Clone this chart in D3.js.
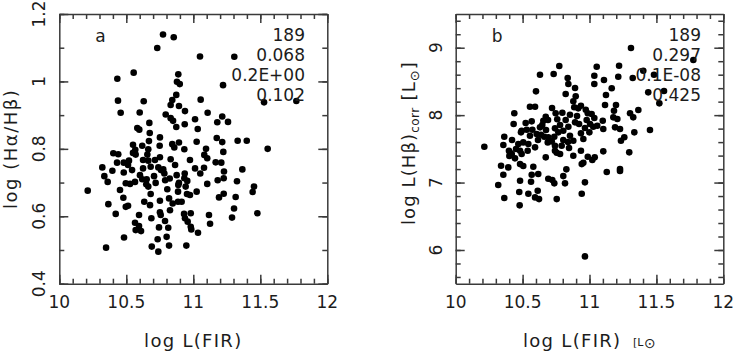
<!DOCTYPE html>
<html>
<head>
<meta charset="utf-8">
<script src="https://cdn.jsdelivr.net/npm/d3@7"></script>
<style>
  body { margin: 0; background: #fff; }
  svg text { font-family: "DejaVu Sans", sans-serif; fill: #1c1c1c; }
  .frame .domain, .frame .tick line { stroke: #3a3a3a; stroke-width: 1.5; }
</style>
</head>
<body>
<div id="chart"></div>
<script>
// canvas size
var svgWidth = 735;
var svgHeight = 352;

// tick labels
var firTicks = [10, 10.5, 11, 11.5, 12];
var ratioTicks = [0.4, 0.6, 0.8, 1, 1.2];
var hbetaTicks = [6, 7, 8, 9];

// statistics printed in the corners
var statsA = ["189", "0.068", "0.2E+00", "0.102"];
var statsB = ["189", "0.297", "0.1E-08", "0.425"];

// panel a: [log L(FIR), log(Ha/Hb)]
var ratioPoints = [
  [10.774,1.139],[10.854,1.131],[10.731,1.099],[10.555,1.026],[10.433,1.008],[10.888,1.021],[10.878,0.999],[10.899,0.992],
  [10.438,0.943],[10.630,0.941],[10.458,0.907],[10.600,0.908],[10.873,0.960],[10.843,0.945],[10.831,0.930],[10.893,0.927],
  [10.938,0.912],[10.794,0.902],[10.831,0.891],[10.849,0.883],[11.013,0.888],[10.936,0.873],[10.873,0.865],[10.672,0.877],
  [10.582,0.862],[10.597,0.857],[10.675,0.847],[10.751,0.834],[10.669,0.823],[10.550,0.812],[10.567,0.797],[10.619,0.809],
  [10.664,0.799],[10.749,0.809],[10.843,0.814],[10.893,0.819],[10.858,0.804],[10.933,0.799],[11.025,0.821],[11.033,0.859],
  [11.050,1.074],[10.403,0.787],[10.440,0.784],
  [11.306,1.073],[11.222,0.989],[11.055,0.946],[11.528,0.938],[11.769,0.942],[11.107,0.907],[11.216,0.896],[11.179,0.879],
  [11.259,0.880],[11.175,0.832],[11.216,0.820],[11.331,0.824],[11.399,0.824],[11.095,0.800],[11.224,0.791],[11.555,0.800],
  [11.082,0.782],[11.104,0.772],[11.167,0.760],[11.209,0.759],[11.013,0.742],[11.080,0.744],[11.052,0.727],[11.229,0.733],
  [11.366,0.739],[11.227,0.713],[11.182,0.707],[11.326,0.704],[11.104,0.696],[11.025,0.673],[11.227,0.667],[11.192,0.656],
  [11.316,0.657],[11.453,0.688],[11.443,0.672],[11.304,0.623],[11.289,0.596],[11.478,0.609],[11.117,0.604],[11.125,0.578],
  [11.035,0.551],
  [10.550,0.788],[10.570,0.783],[10.657,0.783],[10.321,0.745],[10.431,0.759],[10.481,0.759],[10.520,0.765],[10.625,0.767],
  [10.664,0.765],[10.751,0.775],[10.831,0.769],[10.336,0.719],[10.361,0.702],[10.396,0.735],[10.481,0.730],[10.543,0.737],
  [10.625,0.742],[10.682,0.747],[10.739,0.745],[10.759,0.737],[10.776,0.739],[10.784,0.727],[10.876,0.722],[10.936,0.727],
  [10.933,0.713],[10.212,0.676],[10.496,0.698],[10.528,0.696],[10.565,0.702],[10.619,0.710],[10.652,0.710],[10.649,0.695],
  [10.664,0.688],[10.719,0.699],[10.707,0.719],[10.824,0.712],[10.893,0.699],[10.955,0.705],[10.888,0.693],[10.943,0.688],
  [10.806,0.680],[10.886,0.673],[10.953,0.666],[10.682,0.666],[10.751,0.646],[10.819,0.653],[10.846,0.638],[10.886,0.643],
  [10.913,0.643],[10.634,0.643],[10.478,0.655],[10.366,0.636],[10.496,0.628],[10.513,0.631],[10.421,0.607],[10.595,0.604],
  [10.751,0.612],[10.757,0.604],[10.687,0.594],[10.565,0.581],[10.595,0.571],[10.570,0.559],[10.610,0.556],[10.789,0.586],
  [10.744,0.567],[10.813,0.566],[10.931,0.607],[10.938,0.594],[10.958,0.584],[10.981,0.569],[10.985,0.561],[10.981,0.609],
  [10.483,0.537],[10.734,0.532],[10.801,0.539],[10.690,0.510],[10.739,0.495],[10.819,0.513],[10.948,0.513],[10.349,0.507],
  [10.513,0.752],[10.602,0.722],[10.714,0.767],[10.790,0.707],[10.864,0.752],[10.975,0.767],[10.453,0.678],[10.826,0.618],
  [10.677,0.633],[10.975,0.663]
];

// panel b: [log L(FIR), log L(Hb)corr]
var hbetaPoints = [
  [10.774,8.728],[10.732,8.610],[10.630,8.599],[10.600,8.353],[10.837,8.550],[10.842,8.461],[10.892,8.402],[10.822,8.313],
  [10.897,8.279],[10.879,8.205],[10.886,8.116],[10.916,8.101],[10.936,8.139],[10.972,8.080],[10.987,8.027],[11.016,8.016],
  [11.036,8.585],[11.036,8.461],[10.555,8.125],[10.593,8.125],[10.438,8.027],[10.433,7.868],[10.523,7.883],[10.568,7.908],
  [10.673,7.976],[10.655,7.917],[10.647,7.853],[10.630,7.819],[10.747,8.027],[10.797,8.036],[10.759,7.938],[10.822,7.927],
  [10.854,8.006],[10.842,7.828],[10.892,7.893],[10.922,7.868],[10.979,7.927],[11.004,7.868],[11.036,7.957],[11.028,7.828],
  [10.742,7.804],[10.493,7.769],[10.531,7.783],[10.488,7.745],[10.573,7.783],[10.555,7.694],[10.605,7.720],[10.638,7.709],
  [10.662,7.679],[10.692,7.671],[10.737,7.679],[10.767,7.745],[10.804,7.769],[10.854,7.694],[10.804,7.631],[10.879,7.620],
  [10.936,7.730],[10.954,7.645],[10.999,7.745],[10.688,7.596],[10.718,7.611],[10.742,7.546],[10.792,7.546],[10.847,7.512],
  [10.363,7.679],[10.356,7.556],[10.468,7.571],[10.505,7.596],[10.543,7.571],[10.451,7.497],[10.481,7.472],[10.538,7.472],
  [10.593,7.522],[10.214,7.531],[10.398,7.472],[10.742,7.472],[10.936,7.472],
  [11.310,8.996],[11.776,8.817],[11.054,8.718],[11.108,8.521],[11.221,8.733],[11.215,8.570],[11.323,8.550],[11.402,8.659],
  [11.482,8.599],[11.166,8.398],[11.439,8.338],[11.557,8.358],[11.522,8.175],[11.116,8.150],[11.198,8.150],[11.183,8.065],
  [11.365,8.076],[11.303,8.027],[11.327,7.967],[11.099,7.917],[11.058,7.843],[11.178,7.967],[11.208,7.942],[11.103,7.794],
  [11.191,7.819],[11.228,7.794],[11.335,7.745],[11.452,7.779],[11.260,7.671],[11.235,7.620],[11.103,7.463],[11.297,7.448],
  [10.406,7.442],[10.419,7.423],[10.401,7.393],[10.493,7.423],[10.443,7.359],[10.339,7.249],[10.393,7.225],[10.481,7.274],
  [10.505,7.245],[10.580,7.234],[10.673,7.374],[10.755,7.442],[10.780,7.423],[10.879,7.398],[10.942,7.274],[10.954,7.294],
  [10.987,7.383],[11.021,7.334],[10.827,7.196],[10.804,7.096],[10.817,6.988],[10.356,7.116],[10.318,6.963],[10.568,7.116],
  [10.617,7.126],[10.563,7.012],[10.481,7.027],[10.692,7.056],[10.722,7.037],[10.737,6.988],[10.966,7.003],[10.363,6.770],
  [10.475,6.859],[10.543,6.834],[10.613,6.878],[10.593,6.780],[10.623,6.755],[10.755,6.755],[10.942,6.834],[10.478,6.662],
  [10.966,5.905],[11.039,7.374],[11.129,7.156],[11.228,7.200],[11.228,7.171],
  [10.690,7.927],[10.780,7.853],[10.720,8.105],[10.907,7.987],[10.615,7.631],[10.675,7.779],[10.966,7.809],[10.421,7.631],
  [10.839,7.601],[11.123,8.298]
];

var svg = d3.select("#chart")
  .append("svg")
  .attr("width", svgWidth)
  .attr("height", svgHeight)
  .style("background", "#fff");

// scales for both panels
var xA = d3.scaleLinear().domain([10, 12]).range([59.3, 327.3]);
var yA = d3.scaleLinear().domain([0.4, 1.2]).range([283.7, 14]);
var xB = d3.scaleLinear().domain([10, 12]).range([455.7, 723.3]);
var yB = d3.scaleLinear().domain([5.5, 9.5]).range([283.7, 14]);

// inward ticks on all four sides, minor then major
function addTicks(g, axisFn, scale, transform, minor, major) {
  g.append("g").attr("class", "frame").attr("transform", transform)
    .call(axisFn(scale).tickValues(minor).tickSize(-5).tickSizeOuter(0).tickFormat(""));
  g.append("g").attr("class", "frame").attr("transform", transform)
    .call(axisFn(scale).tickValues(major).tickSize(-9).tickSizeOuter(0).tickFormat(""))
    .select(".domain").remove();
}

function drawPanel(x, y, yMinor, yMajor, points, yLabelX, letter, stats, statRight) {
  var g = svg.append("g");
  var left = x.range()[0], right = x.range()[1];
  var bottom = y.range()[0], top = y.range()[1];
  var xMinor = d3.range(10, 12.001, 0.1);

  addTicks(g, d3.axisBottom, x, `translate(0,${bottom})`, xMinor, firTicks);
  addTicks(g, d3.axisTop, x, `translate(0,${top})`, xMinor, firTicks);
  addTicks(g, d3.axisLeft, y, `translate(${left},0)`, yMinor, yMajor);
  addTicks(g, d3.axisRight, y, `translate(${right},0)`, yMinor, yMajor);

  // x tick labels
  g.selectAll(".xlab")
    .data(firTicks)
    .enter()
    .append("text")
    .attr("x", d => x(d))
    .attr("y", 307.5)
    .attr("text-anchor", "middle")
    .style("font-size", "17px")
    .text(d => d);

  // y tick labels, rotated like the axis
  g.selectAll(".ylab")
    .data(yMajor)
    .enter()
    .append("text")
    .attr("transform", d => `translate(${yLabelX},${y(d)}) rotate(-90)`)
    .attr("text-anchor", "middle")
    .style("font-size", "17px")
    .text(d => d);

  // scatter points
  g.selectAll("circle")
    .data(points)
    .enter()
    .append("circle")
    .attr("cx", d => x(d[0]))
    .attr("cy", d => y(d[1]))
    .attr("r", 3.3)
    .attr("fill", "#000");

  g.append("text")
    .attr("x", left + 36)
    .attr("y", 42)
    .style("font-size", "17px")
    .text(letter);

  g.selectAll(".stat")
    .data(stats)
    .enter()
    .append("text")
    .attr("x", statRight)
    .attr("y", (d, i) => 41 + i * 20)
    .attr("text-anchor", "end")
    .style("font-size", "17px")
    .text(d => d);

  return g;
}

drawPanel(xA, yA, d3.range(0.4, 1.2001, 0.1), ratioTicks, ratioPoints, 44.5, "a", statsA, 305);
drawPanel(xB, yB, d3.range(5.6, 9.5, 0.2), hbetaTicks, hbetaPoints, 442, "b", statsB, 701);

// axis titles
svg.append("text")
  .attr("x", 193.3)
  .attr("y", 346.5)
  .attr("text-anchor", "middle")
  .style("font-size", "18px")
  .style("letter-spacing", "1.3px")
  .text("log L(FIR)");

svg.append("text")
  .attr("transform", "translate(17,148.8) rotate(-90)")
  .attr("text-anchor", "middle")
  .style("font-size", "18px")
  .style("letter-spacing", "1.5px")
  .text("log (H\u03b1/H\u03b2)");

svg.append("text")
  .attr("x", 523)
  .attr("y", 346.5)
  .style("font-size", "18px")
  .style("letter-spacing", "1.3px")
  .text("log L(FIR)");
svg.append("text")
  .attr("x", 633)
  .attr("y", 346)
  .style("font-size", "11px")
  .text("[L");
svg.append("text")
  .attr("x", 644)
  .attr("y", 347.5)
  .style("font-size", "14px")
  .text("\u2299");

var yTitleB = svg.append("text")
  .attr("transform", "translate(415,225) rotate(-90)")
  .style("font-size", "18px")
  .style("letter-spacing", "1.1px");
yTitleB.append("tspan").text("log L(H\u03b2)");
yTitleB.append("tspan").attr("dy", 4).style("font-size", "12px").style("letter-spacing", "0.5px").text("corr");
yTitleB.append("tspan").attr("dy", -4).text(" [L");
yTitleB.append("tspan").attr("dy", 4).style("font-size", "13px").text("\u2299");
yTitleB.append("tspan").attr("dy", -4).text("]");
</script>
</body>
</html>
